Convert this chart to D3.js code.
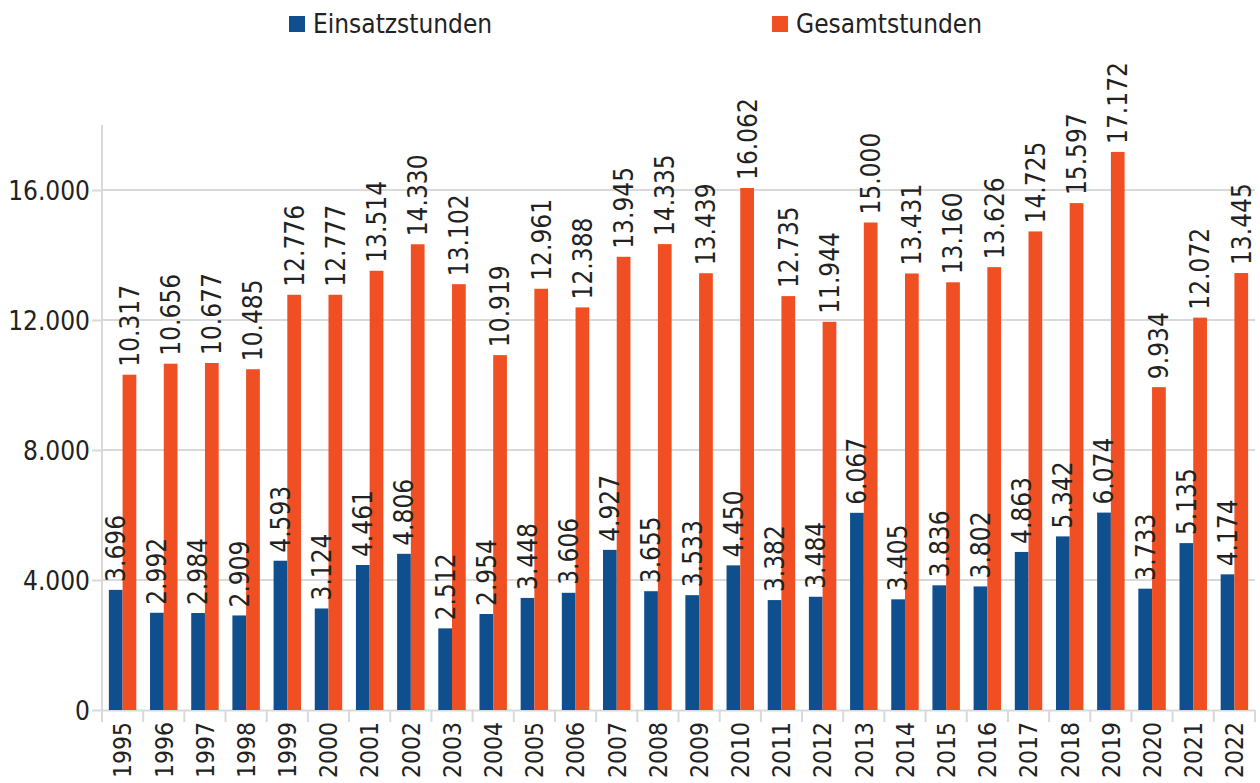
<!DOCTYPE html>
<html>
<head>
<meta charset="utf-8">
<script src="https://cdn.jsdelivr.net/npm/d3@7"></script>
<style>
  body { margin: 0; background: #fff; }
  svg text { font-family: "DejaVu Sans Condensed", "DejaVu Sans", sans-serif; font-stretch: condensed; fill: #222; }
</style>
</head>
<body>
<div id="chart"></div>
<script>
var years = ["1995","1996","1997","1998","1999","2000","2001","2002","2003","2004","2005","2006","2007","2008",
             "2009","2010","2011","2012","2013","2014","2015","2016","2017","2018","2019","2020","2021","2022"];
var einsatzstunden = [3696, 2992, 2984, 2909, 4593, 3124, 4461, 4806, 2512, 2954, 3448, 3606, 4927, 3655,
                      3533, 4450, 3382, 3484, 6067, 3405, 3836, 3802, 4863, 5342, 6074, 3733, 5135, 4174];
var gesamtstunden = [10317, 10656, 10677, 10485, 12776, 12777, 13514, 14330, 13102, 10919, 12961, 12388, 13945, 14335,
                     13439, 16062, 12735, 11944, 15000, 13431, 13160, 13626, 14725, 15597, 17172, 9934, 12072, 13445];
var seriesNames = ["Einsatzstunden", "Gesamtstunden"];
var seriesColors = ["#0f4f8d", "#f04e23"];
var yTicks = [0, 4000, 8000, 12000, 16000];

var width = 1260, height = 783;
var margin = {top: 125, bottom: 73, left: 102, right: 5};
var fontSize = 26;
var yearFontSize = 24.5;

var de = d3.formatLocale({decimal: ",", thousands: ".", grouping: [3], currency: ["", " €"]});
var fmt = de.format(",");

var data = years.map(function(y, i) {
    return {year: y, values: [einsatzstunden[i], gesamtstunden[i]]};
});

var svg = d3.select("#chart")
    .append("svg")
    .attr("width", width)
    .attr("height", height);

var x0 = d3.scaleBand()
    .domain(years)
    .range([margin.left, width - margin.right])
    .padding(0);

var x1 = d3.scaleBand()
    .domain([0, 1])
    .range([0, x0.bandwidth()])
    .paddingInner(0)
    .paddingOuter(0.5);

var y = d3.scaleLinear()
    .domain([0, 18000])
    .range([height - margin.bottom, margin.top]);

// gridlines
svg.append("g")
    .selectAll("line")
    .data(yTicks.slice(1))
    .enter()
    .append("line")
    .attr("x1", margin.left)
    .attr("x2", width - margin.right)
    .attr("y1", function(d) { return y(d); })
    .attr("y2", function(d) { return y(d); })
    .attr("stroke", "#d9d9d9")
    .attr("stroke-width", 2);

// y axis
var yAxis = svg.append("g")
    .attr("transform", `translate(${margin.left},0)`)
    .call(d3.axisLeft(y).tickValues(yTicks).tickFormat(fmt).tickSize(10).tickPadding(2));
yAxis.select(".domain")
    .attr("d", `M0,${y(0)}V${margin.top}`)
    .attr("stroke", "#d9d9d9").attr("stroke-width", 2);
yAxis.selectAll(".tick line").attr("stroke", "#d9d9d9").attr("stroke-width", 2);
yAxis.selectAll(".tick text")
    .style("font-size", fontSize + "px")
    .attr("fill", "#222")
    .attr("dy", "0.36em");

// x axis
var xAxis = svg.append("g")
    .attr("transform", `translate(0,${y(0)})`)
    .call(d3.axisBottom(x0).tickSize(0).tickSizeOuter(0));
xAxis.select(".domain").attr("stroke", "#d9d9d9").attr("stroke-width", 2);
xAxis.selectAll(".tick text")
    .style("font-size", yearFontSize + "px")
    .attr("fill", "#222")
    .attr("text-anchor", "end")
    .attr("transform", "rotate(-90)")
    .attr("x", -12)
    .attr("y", 0)
    .attr("dy", "0.36em");

// separators between categories
svg.append("g")
    .selectAll("line")
    .data(years.concat(["end"]))
    .enter()
    .append("line")
    .attr("x1", function(d, i) { return margin.left + i * x0.step(); })
    .attr("x2", function(d, i) { return margin.left + i * x0.step(); })
    .attr("y1", y(0))
    .attr("y2", y(0) + 12)
    .attr("stroke", "#d9d9d9")
    .attr("stroke-width", 2);

// bars
var groups = svg.append("g")
    .selectAll("g")
    .data(data)
    .enter()
    .append("g")
    .attr("transform", function(d) { return `translate(${x0(d.year)},0)`; });

groups.selectAll("rect")
    .data(function(d) { return d.values; })
    .enter()
    .append("rect")
    .attr("x", function(d, i) { return x1(i); })
    .attr("y", function(d) { return y(d); })
    .attr("width", x1.bandwidth())
    .attr("height", function(d) { return y(0) - y(d); })
    .attr("fill", function(d, i) { return seriesColors[i]; });

groups.selectAll("text.val")
    .data(function(d) { return d.values; })
    .enter()
    .append("text")
    .attr("class", "val")
    .attr("transform", function(d, i) {
        return `translate(${x1(i) + x1.bandwidth() / 2},${y(d) - 8}) rotate(-90)`;
    })
    .attr("dy", "0.36em")
    .style("font-size", fontSize + "px")
    .text(function(d) { return fmt(d); });

// legend
var legendX = [289, 772];
var legend = svg.append("g")
    .selectAll("g")
    .data(seriesNames)
    .enter()
    .append("g")
    .attr("transform", function(d, i) { return `translate(${legendX[i]},16)`; });

legend.append("rect")
    .attr("width", 16)
    .attr("height", 16)
    .attr("fill", function(d, i) { return seriesColors[i]; });

legend.append("text")
    .attr("x", 24)
    .attr("y", 17)
    .style("font-size", fontSize + "px")
    .text(function(d) { return d; });
</script>
</body>
</html>
